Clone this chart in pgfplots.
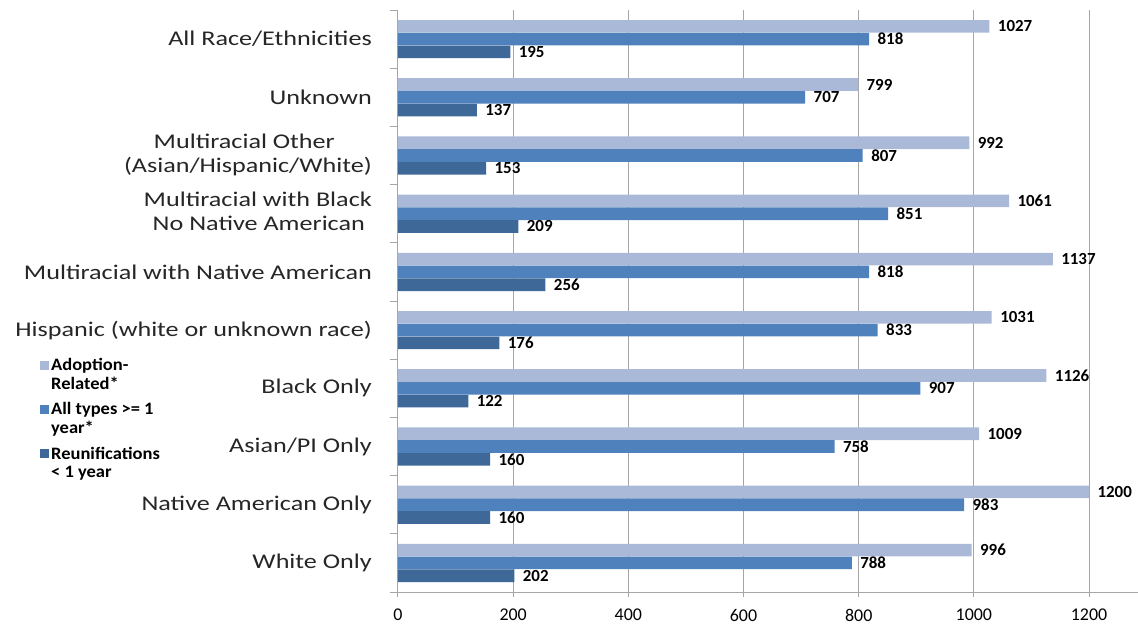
\documentclass[border=0pt]{standalone}
\usepackage{pgfplots}
\usepackage{pgfplotstable}
\pgfplotsset{compat=1.18}
\usepackage{fontspec}
\setmainfont{Carlito}
\usepackage{graphicx}

\definecolor{adopt}{HTML}{AAB9D7}
\definecolor{alltypes}{HTML}{4F81BD}
\definecolor{reunif}{HTML}{3E6898}
\definecolor{gridgray}{HTML}{A6A6A6}

% category labels are set a little wider than the font's natural width
\newcommand{\cat}[1]{\scalebox{1.25}[1]{#1}}
\newcommand{\two}[2]{\cat{\begin{tabular}{@{}r@{}}#1\\#2\end{tabular}}}
\newcommand{\lw}[1]{\scalebox{1.06}[1]{#1}}

\pgfplotstableread{
idx adopt all reunif
0 1027 818 195
1 799 707 137
2 992 807 153
3 1061 851 209
4 1137 818 256
5 1031 833 176
6 1126 907 122
7 1009 758 160
8 1200 983 160
9 996 788 202
}\data

\begin{document}
\begin{tikzpicture}
\path[use as bounding box] (-398bp,-32bp) rectangle (740bp,592bp);
\begin{axis}[
  at={(0,0)}, anchor=south west,
  scale only axis,
  width=740bp, height=582bp,
  xbar, bar width=12.6bp,
  xmin=0, xmax=1285,
  ymin=-0.5, ymax=9.5,
  y dir=reverse,
  axis x line*=bottom, axis y line*=left,
  axis line style={-, draw=gridgray, line width=1bp},
  xtick={0,200,...,1200},
  xmajorgrids, grid style={draw=gridgray, line width=1bp},
  ytick={0,...,9},
  minor ytick={-0.5,0.5,...,9.5},
  tick align=outside,
  major tick length=5bp, minor tick length=8bp,
  major y tick style={draw=none},
  minor y tick style={draw=gridgray, line width=1bp},
  major x tick style={draw=gridgray, line width=1bp},
  yticklabels={
    {\cat{All Race/Ethnicities}},
    {\cat{Unknown}},
    {\two{Multiracial Other\hspace*{29.5bp}}{(Asian/Hispanic/White)}},
    {\two{Multiracial with Black}{No Native American\hspace*{5.6bp}}},
    {\cat{Multiracial with Native American}},
    {\cat{Hispanic (white or unknown race)}},
    {\cat{Black Only}},
    {\cat{Asian/PI Only}},
    {\cat{Native American Only}},
    {\cat{White Only}}},
  yticklabel style={font=\fontsize{21}{24}\selectfont, inner sep=0pt, xshift=-21bp, text=black!85},
  xticklabel style={font=\fontsize{18}{20}\selectfont, inner sep=0pt, yshift=-12bp},
  /pgf/number format/.cd, assume math mode=true, 1000 sep={},
  /pgfplots/.cd,
  nodes near coords,
  every node near coord/.append style={font=\bfseries\fontsize{17}{17}\selectfont, text=black, xshift=5bp},
  legend style={at={(-0.4838,0.405)}, anchor=north west, draw=none, fill=none,
    inner sep=0pt, row sep=8bp,
    font=\bfseries\fontsize{17.5}{18.5}\selectfont,
    cells={align=left, anchor=west}},
  legend cell align=left,
  legend image code/.code={\fill[#1] (0bp,5bp) rectangle (9bp,14bp);},
]
\addplot[fill=adopt, draw=none, bar shift=12.8bp] table[x=adopt, y=idx] {\data};
\addplot[fill=alltypes, draw=none, bar shift=0bp] table[x=all, y=idx] {\data};
\addplot[fill=reunif, draw=none, bar shift=-12.8bp] table[x=reunif, y=idx] {\data};
\legend{\lw{Adoption-}\\\lw{Related*}, \lw{All types >= 1}\\\lw{year*}, \lw{Reunifications}\\\lw{< 1 year}}
\end{axis}
\end{tikzpicture}
\end{document}
